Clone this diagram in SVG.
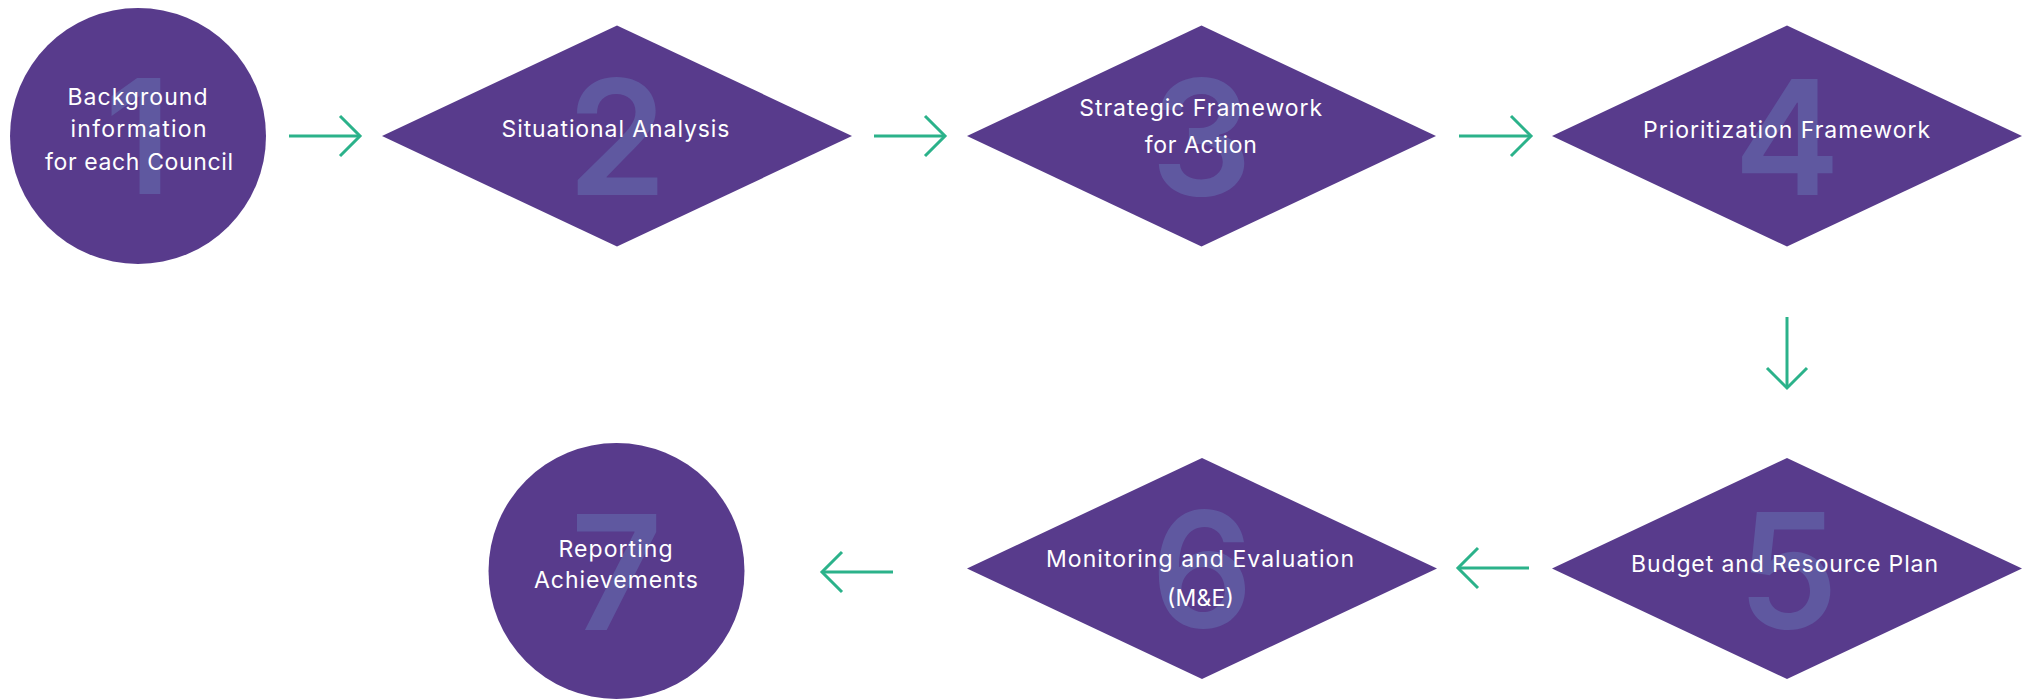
<svg xmlns="http://www.w3.org/2000/svg" width="2031" height="699" viewBox="0 0 2031 699">
  <style>
    .shape { fill: #583B8C; }
    .num { fill: #5F58A0; font-family: Inter, "Liberation Sans", sans-serif; font-weight: 600; font-size: 160px; text-anchor: middle; }
    .label { fill: #FFFFFF; font-family: Inter, "Liberation Sans", sans-serif; font-weight: 400; font-size: 23px; text-anchor: middle; }
    .flow { stroke: #2BB28A; stroke-width: 3; fill: none; }
  </style>
  <defs>
    <marker id="chevron" markerUnits="userSpaceOnUse" viewBox="-25 -25 30 50" refX="0" refY="0" markerWidth="30" markerHeight="50" orient="auto" overflow="visible">
      <path d="M-20,-20 L0,0 L-20,20" fill="none" stroke="#2BB28A" stroke-width="3"/>
    </marker>
  </defs>

  <rect width="2031" height="699" fill="#FFFFFF"/>

  <!-- connectors -->
  <g id="connectors" class="flow" marker-end="url(#chevron)">
    <line x1="289" y1="136" x2="360" y2="136" marker-end="url(#chevron)"/>
    <line x1="874" y1="136" x2="945" y2="136" marker-end="url(#chevron)"/>
    <line x1="1459" y1="136" x2="1531" y2="136" marker-end="url(#chevron)"/>
    <line x1="1787" y1="317" x2="1787" y2="388" marker-end="url(#chevron)"/>
    <line x1="1529" y1="568" x2="1458" y2="568" marker-end="url(#chevron)"/>
    <line x1="893" y1="572" x2="822" y2="572" marker-end="url(#chevron)"/>
  </g>

  <!-- step 1 -->
  <g id="step1">
    <circle class="shape" cx="138" cy="136" r="128"/>
    <text class="num" x="138" y="194">1</text>
    <text class="label" x="137.5" y="104.5" textLength="140" lengthAdjust="spacing">Background</text>
    <text class="label" x="138.5" y="137" textLength="136" lengthAdjust="spacing">information</text>
    <text class="label" x="139" y="169.5" textLength="188" lengthAdjust="spacing">for each Council</text>
  </g>

  <!-- step 2 -->
  <g id="step2">
    <polygon class="shape" points="382,136 617,25.5 852,136 617,246.5"/>
    <text class="num" x="617" y="195">2</text>
    <text class="label" x="615.5" y="137.3" textLength="228" lengthAdjust="spacing">Situational Analysis</text>
  </g>

  <!-- step 3 -->
  <g id="step3">
    <polygon class="shape" points="967,136 1201.5,25.5 1436,136 1201.5,246.5"/>
    <text class="num" x="1201.5" y="195">3</text>
    <text class="label" x="1200.7" y="116" textLength="243" lengthAdjust="spacing">Strategic Framework</text>
    <text class="label" x="1200.8" y="152.7" textLength="112" lengthAdjust="spacing">for Action</text>
  </g>

  <!-- step 4 -->
  <g id="step4">
    <polygon class="shape" points="1552,136 1787,25.5 2022,136 1787,246.5"/>
    <text class="num" x="1787" y="195">4</text>
    <text class="label" x="1786.5" y="137.5" textLength="287" lengthAdjust="spacing">Prioritization Framework</text>
  </g>

  <!-- step 5 -->
  <g id="step5">
    <polygon class="shape" points="1552,568.5 1787,458 2022,568.5 1787,679"/>
    <text class="num" x="1788" y="628">5</text>
    <text class="label" x="1784.5" y="571.7" textLength="307" lengthAdjust="spacing">Budget and Resource Plan</text>
  </g>

  <!-- step 6 -->
  <g id="step6">
    <polygon class="shape" points="967,568.5 1202,458 1437,568.5 1202,679"/>
    <text class="num" x="1202" y="627">6</text>
    <text class="label" x="1200" y="566.7" textLength="308" lengthAdjust="spacing">Monitoring and Evaluation</text>
    <text class="label" x="1200.5" y="606" textLength="67" lengthAdjust="spacing">(M&amp;E)</text>
  </g>

  <!-- step 7 -->
  <g id="step7">
    <circle class="shape" cx="616.5" cy="571" r="128"/>
    <text class="num" x="616.5" y="630">7</text>
    <text class="label" x="615.5" y="556.7" textLength="114" lengthAdjust="spacing">Reporting</text>
    <text class="label" x="616" y="588.3" textLength="164" lengthAdjust="spacing">Achievements</text>
  </g>
</svg>
